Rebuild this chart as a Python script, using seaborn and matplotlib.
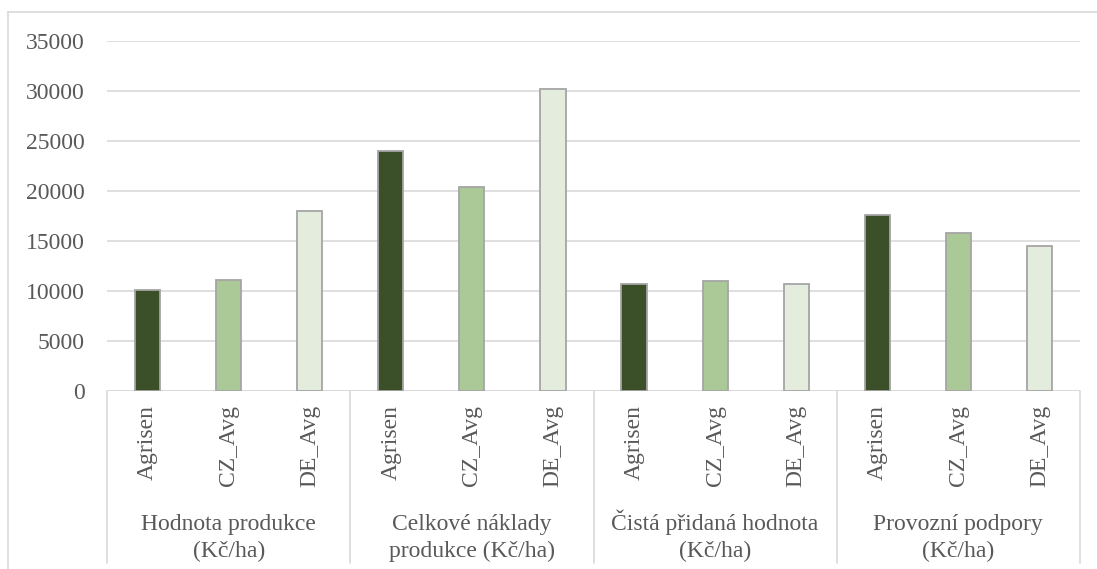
"""Grouped bar chart: Agrisen vs CZ and DE averages (Kč/ha)."""

import matplotlib.pyplot as plt
import pandas as pd
import seaborn as sns
from matplotlib.lines import Line2D
from matplotlib.transforms import blended_transform_factory

groups = [
    "Hodnota produkce\n(Kč/ha)",
    "Celkové náklady\nprodukce (Kč/ha)",
    "Čistá přidaná hodnota\n(Kč/ha)",
    "Provozní podpory\n(Kč/ha)",
]
series = ["Agrisen", "CZ_Avg", "DE_Avg"]
agrisen = [10100, 24050, 10670, 17570]
cz_avg = [11100, 20400, 11030, 15830]
de_avg = [18030, 30250, 10700, 14470]
colors = ["#3B5722", "#A9D18E", "#E2EFDA"]

TEXT = "#595959"
GRID = "#D9D9D9"
FS = 17


def build_frame() -> pd.DataFrame:
    rows = []
    for i, group in enumerate(groups):
        for name, values in zip(series, [agrisen, cz_avg, de_avg]):
            rows.append({"slot": f"{i}|{name}", "group": group, "series": name, "value": values[i]})
    return pd.DataFrame(rows)


def main() -> None:
    df = build_frame()

    sns.set_theme(style="white")
    plt.rcParams["font.family"] = ["Liberation Serif", "DejaVu Serif"]

    fig = plt.figure(figsize=(10.97, 5.69), dpi=100)
    ax = fig.add_axes([107 / 1097, 178 / 569, 973 / 1097, 350 / 569])

    sns.barplot(
        data=df, x="slot", y="value", hue="series", hue_order=series,
        palette=colors, dodge=False, width=0.31, edgecolor="#A5A5A5",
        linewidth=1.3, legend=False, ax=ax, zorder=3,
    )

    ax.set_ylim(0, 35000)
    ax.set_xlim(-0.5, len(df) - 0.5)
    ax.set_yticks(range(0, 35001, 5000))
    ax.yaxis.grid(True, color=GRID, linewidth=1.2, zorder=0)
    ax.set_axisbelow(True)
    for side in ["top", "right", "left", "bottom"]:
        ax.spines[side].set_visible(False)
    ax.axhline(0, color=GRID, linewidth=1.2, zorder=1)

    ax.set_xlabel("")
    ax.set_ylabel("")
    ax.tick_params(axis="y", length=0, pad=16, labelsize=FS, labelcolor=TEXT)
    ax.set_xticks(range(len(df)))
    ax.set_xticklabels(df["series"], rotation=90, va="top", ha="center")
    ax.tick_params(axis="x", length=0, pad=10, labelsize=FS, labelcolor=TEXT)

    trans = blended_transform_factory(ax.transData, ax.transAxes)
    for k in range(len(groups) + 1):
        x = k * 3 - 0.5
        ax.add_line(Line2D([x, x], [0, -0.49], transform=trans, color=GRID,
                           linewidth=1.2, clip_on=False))
    # each group label line placed on its own baseline so accents don't shift it
    for k, group in enumerate(groups):
        for line, y in zip(group.split("\n"), [-0.397, -0.474]):
            ax.text(k * 3 + 1, y, line, transform=trans, ha="center", va="baseline",
                    fontsize=FS, color=TEXT)

    # outer chart-area border (left and top edges visible)
    fig.add_artist(Line2D([8 / 1097, 8 / 1097], [0, 1 - 12 / 569],
                          transform=fig.transFigure, color=GRID, linewidth=1.2))
    fig.add_artist(Line2D([8 / 1097, 1], [1 - 12 / 569, 1 - 12 / 569],
                          transform=fig.transFigure, color=GRID, linewidth=1.2))

    fig.savefig("out.png", dpi=100)
    plt.close(fig)


if __name__ == "__main__":
    main()
